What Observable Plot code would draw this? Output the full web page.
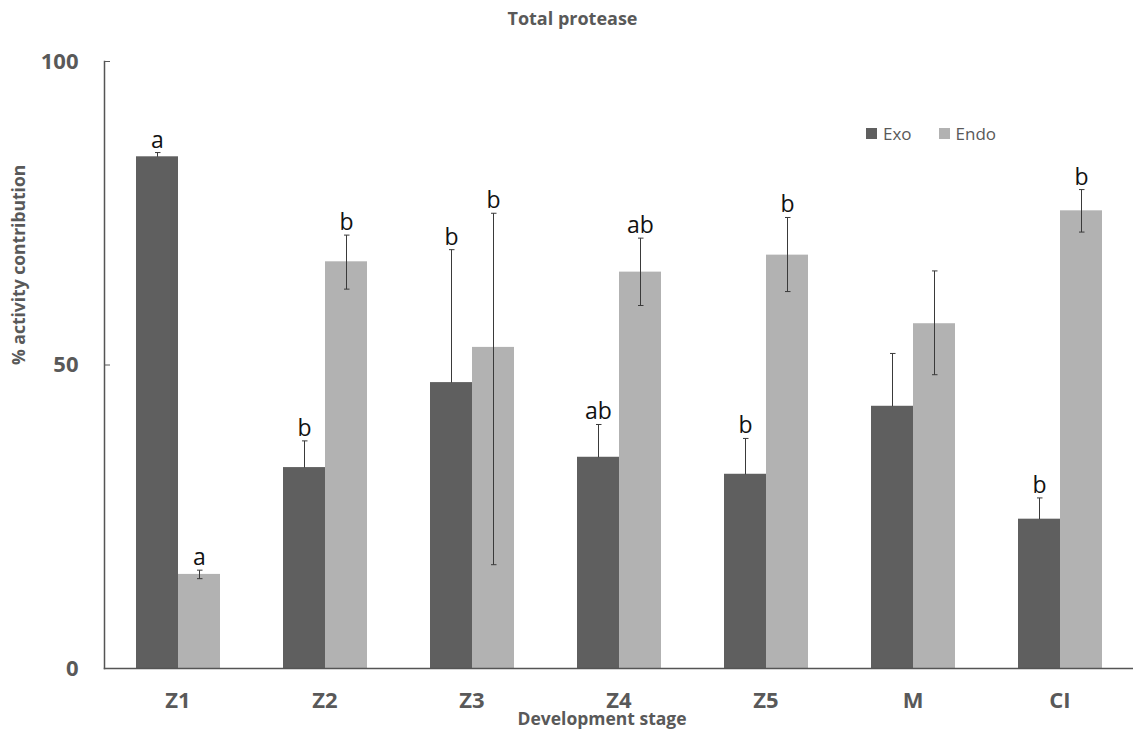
<!DOCTYPE html>
<html>
<head>
<meta charset="utf-8">
<script src="https://cdn.jsdelivr.net/npm/d3@7"></script>
<script src="https://cdn.jsdelivr.net/npm/@observablehq/plot@0.6"></script>
<style>
  html, body { margin: 0; padding: 0; background: #fff; }
  #wrap { position: relative; width: 1133px; height: 732px; font-family: "Open Sans", sans-serif; }
  #title { height: 35px; line-height: 36px; text-align: center; font-size: 18px; font-weight: bold; color: #595959; padding-left: 12px; }
  #legend { position: absolute; left: 866px; top: 122px; display: flex; align-items: center; font-size: 17px; color: #595959; }
  #legend .sw { width: 11px; height: 11px; display: inline-block; margin-right: 6px; }
  #legend .item { display: flex; align-items: center; margin-right: 27px; }
  svg { display: block; }
</style>
</head>
<body>
<div id="wrap">
  <div id="title"></div>
  <div id="chart"></div>
  <div id="legend"></div>
</div>
<script>
const titleText = "Total protease";
const xLabel = "Development stage";
const yLabel = "% activity contribution";
const stages = ["Z1", "Z2", "Z3", "Z4", "Z5", "M", "CI"];
const series = ["Exo", "Endo"];
const seriesColors = ["#5f5f5f", "#b2b2b2"];
const exoValues = [84.3, 33.1, 47.1, 34.8, 32.0, 43.2, 24.6];
const exoErr = [0.7, 4.4, 21.9, 5.4, 5.9, 8.7, 3.5];
const endoValues = [15.5, 67.0, 52.9, 65.3, 68.1, 56.8, 75.4];
const endoErrUp = [0.7, 4.4, 22.1, 5.6, 6.2, 8.7, 3.5];
const endoErrDown = [0.7, 4.5, 35.8, 5.5, 6.0, 8.4, 3.5];
const exoLetters = ["a", "b", "b", "ab", "b", "", "b"];
const endoLetters = ["a", "b", "b", "ab", "b", "", "b"];
const yTicks = [0, 50, 100];

const rows = [];
stages.forEach((s, i) => {
  rows.push({stage: s, series: "Exo", value: exoValues[i], lo: exoValues[i], hi: exoValues[i] + exoErr[i], letter: exoLetters[i]});
  rows.push({stage: s, series: "Endo", value: endoValues[i], lo: endoValues[i] - endoErrDown[i], hi: endoValues[i] + endoErrUp[i], letter: endoLetters[i]});
});
const exoRows = rows.filter(d => d.series === "Exo");
const endoRows = rows.filter(d => d.series === "Endo");

document.getElementById("title").textContent = titleText;

const chart = Plot.plot({
  width: 1133,
  height: 697,
  marginTop: 26,
  marginBottom: 64,
  marginLeft: 103,
  marginRight: 0,
  style: {fontFamily: "'Open Sans', sans-serif", background: "#fff"},
  fx: {domain: stages, padding: 0, label: null},
  x: {domain: series, paddingInner: 0, paddingOuter: 0.75, axis: null},
  y: {domain: [0, 100], axis: null},
  color: {domain: series, range: seriesColors},
  marks: [
    Plot.barY(rows, {fx: "stage", x: "series", y: "value", fill: "series"}),
    Plot.link(exoRows, {fx: "stage", x1: "series", x2: "series", y1: "lo", y2: "hi", stroke: "#3a3a3a", strokeWidth: 1, markerEnd: "tick"}),
    Plot.link(endoRows, {fx: "stage", x1: "series", x2: "series", y1: "lo", y2: "hi", stroke: "#3a3a3a", strokeWidth: 1, markerStart: "tick", markerEnd: "tick"}),
    Plot.text(rows, {fx: "stage", x: "series", y: "hi", text: "letter", lineAnchor: "bottom", dy: -5, fontSize: 23, fill: "#111"}),
    Plot.frame({anchor: "bottom", facet: "super", stroke: "#555", strokeWidth: 1.5}),
    Plot.frame({anchor: "left", facet: "super", stroke: "#555", strokeWidth: 1.5}),
    Plot.axisY({ticks: yTicks, tickSize: -6, tickPadding: 32, fontSize: 22, fontWeight: "bold", color: "#595959", label: null}),
    Plot.axisFx({anchor: "bottom", tickSize: 0, tickPadding: 24, fontSize: 22, fontWeight: "bold", color: "#595959", label: null}),
    Plot.text([xLabel], {facet: "super", frameAnchor: "bottom", dy: 56, dx: -17, fontSize: 17.5, fontWeight: "bold", fill: "#595959"}),
    Plot.text([yLabel], {facet: "super", frameAnchor: "left", rotate: -90, dx: -85, fontSize: 17.5, fontWeight: "bold", fill: "#595959"})
  ]
});
document.getElementById("chart").appendChild(chart);

const legend = document.getElementById("legend");
series.forEach((s, i) => {
  const item = document.createElement("div");
  item.className = "item";
  const sw = document.createElement("span");
  sw.className = "sw";
  sw.style.background = seriesColors[i];
  const lab = document.createElement("span");
  lab.textContent = s;
  item.appendChild(sw);
  item.appendChild(lab);
  legend.appendChild(item);
});
</script>
</body>
</html>
